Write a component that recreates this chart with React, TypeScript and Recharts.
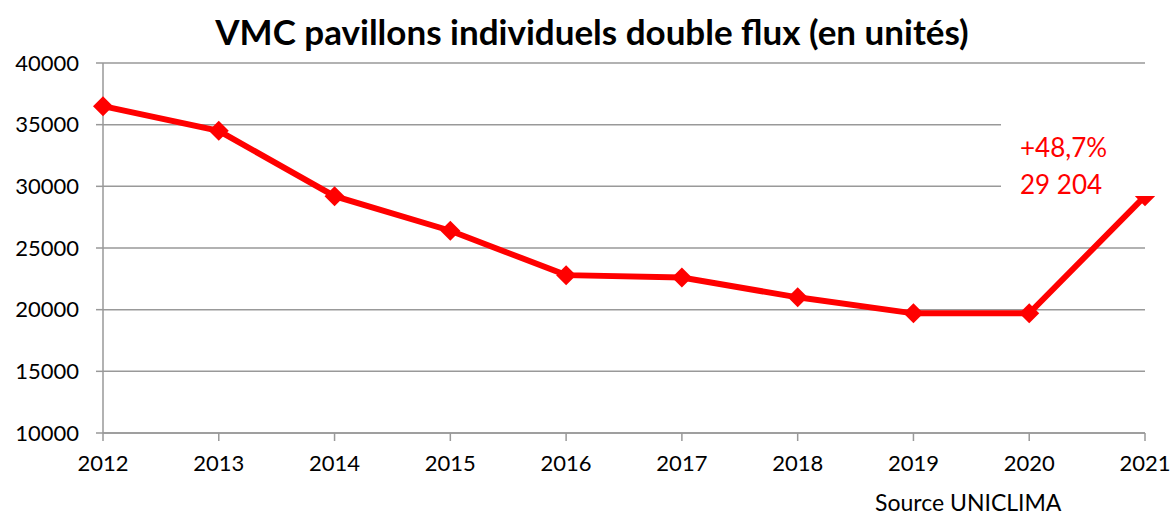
import { LineChart, Line, XAxis, YAxis, CartesianGrid } from 'recharts';

// Annual sales of double-flow VMC for individual houses (units)
const years = ['2012', '2013', '2014', '2015', '2016', '2017', '2018', '2019', '2020', '2021'];
const units = [36500, 34500, 29200, 26400, 22800, 22600, 21000, 19700, 19700, 29204];
const yTicks = [10000, 15000, 20000, 25000, 30000, 35000, 40000];

const data = years.map((year, i) => ({ year, units: units[i] }));

const FONT = 'Lato, "Open Sans", sans-serif';
const RED = '#ff0000';

// Diamond marker like the Excel series
function Diamond(props: { cx?: number; cy?: number; index?: number }) {
  const { cx, cy, index } = props;
  if (cx == null || cy == null) return null;
  const r = 10;
  return (
    <polygon
      key={`d-${index}`}
      points={`${cx},${cy - r} ${cx + r},${cy} ${cx},${cy + r} ${cx - r},${cy}`}
      fill={RED}
    />
  );
}

export default function App() {
  return (
    <div
      style={{
        position: 'absolute',
        left: 0,
        top: 0,
        width: 1174,
        height: 517,
        background: '#fff',
        fontFamily: FONT,
        overflow: 'hidden',
      }}
    >
      <div
        style={{
          position: 'absolute',
          left: 0,
          top: 10,
          width: 1184,
          textAlign: 'center',
          fontSize: 35,
          fontWeight: 700,
          color: '#000',
          lineHeight: '42px',
        }}
      >
        VMC pavillons individuels double flux (en unités)
      </div>

      <LineChart
        width={1174}
        height={517}
        data={data}
        margin={{ top: 63, right: 29, bottom: 0, left: 0 }}
      >
        <CartesianGrid vertical={false} stroke="#999" strokeWidth={1.5} />
        <XAxis
          dataKey="year"
          height={84}
          stroke="#999"
          strokeWidth={1.5}
          tickSize={8}
          tickMargin={14}
          tick={{ fill: '#000', fontSize: 22, fontFamily: FONT }}
          interval={0}
        />
        <YAxis
          width={103}
          domain={[10000, 40000]}
          ticks={yTicks}
          stroke="#999"
          strokeWidth={1.5}
          tickSize={7}
          tickMargin={17}
          tick={{ fill: '#000', fontSize: 22, fontFamily: FONT }}
          allowDataOverflow
        />
        <Line
          type="linear"
          dataKey="units"
          stroke={RED}
          strokeWidth={6}
          dot={<Diamond />}
          activeDot={false}
          isAnimationActive={false}
        />
      </LineChart>

      {/* annotation box with white background covering the grid */}
      <div
        style={{
          position: 'absolute',
          left: 1001,
          top: 92,
          width: 173,
          height: 104,
          background: '#fff',
        }}
      />
      <div
        style={{
          position: 'absolute',
          left: 1020,
          top: 129,
          color: RED,
          fontSize: 26,
          lineHeight: '37px',
        }}
      >
        <div>+48,7%</div>
        <div>29 204</div>
      </div>

      <div
        style={{
          position: 'absolute',
          left: 875,
          top: 489,
          fontSize: 23,
          color: '#000',
          lineHeight: '26px',
          whiteSpace: 'nowrap',
        }}
      >
        Source UNICLIMA
      </div>
    </div>
  );
}
